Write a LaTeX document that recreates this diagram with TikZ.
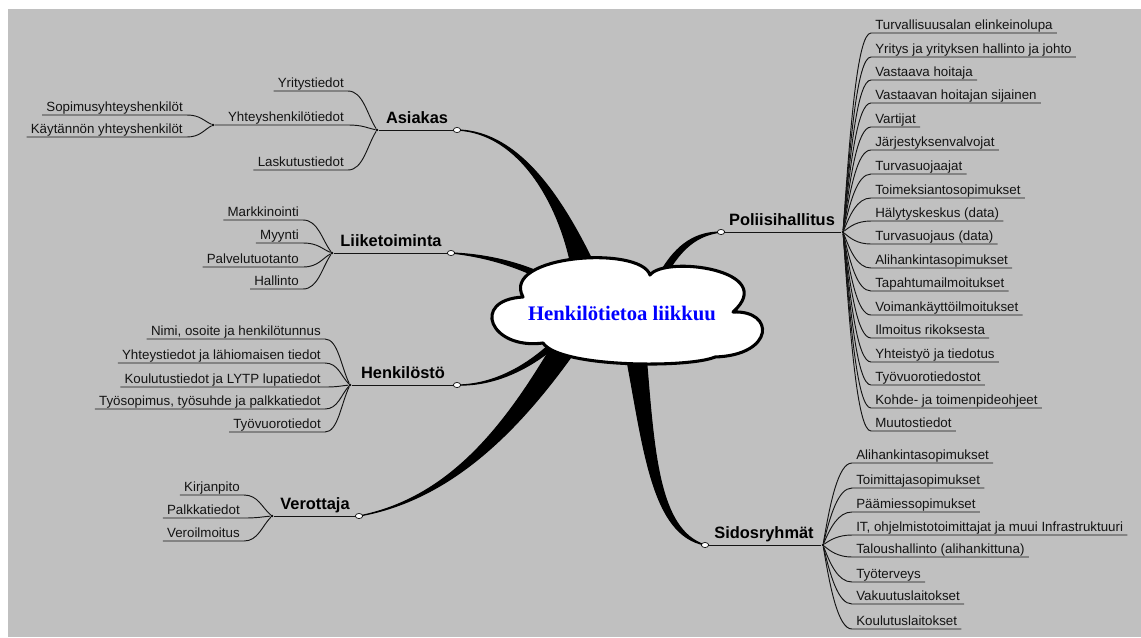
\documentclass[tikz,border=0pt]{standalone}
\usepackage{fontspec}
\setmainfont{Liberation Sans}
\newfontfamily\cloudfont{Liberation Serif}
\usetikzlibrary{shapes.geometric,calc}
\definecolor{bg}{RGB}{192,192,192}
\definecolor{ctext}{RGB}{0,0,255}
\definecolor{ink}{RGB}{20,20,20}
\pgfdeclarelayer{bgl}\pgfdeclarelayer{back}\pgfsetlayers{bgl,back,main}
\begin{document}
\begin{tikzpicture}[x=0.75pt,y=-0.75pt,
  ul/.style={draw=ink,line width=0.7pt},
  lch/.style={anchor=south east,inner xsep=3pt,inner ysep=0pt,text height=7.5pt,text depth=2.2pt,font=\fontsize{10}{12}\selectfont,text=ink},
  rch/.style={lch,anchor=south west},
  head/.style={anchor=south,inner sep=0pt,inner ysep=1.5pt,text height=9pt,text depth=3pt,font=\fontsize{12.3}{14}\selectfont\bfseries},
  conn/.style={ellipse,draw=black,fill=white,line width=0.5pt,minimum width=5.5pt,minimum height=3.8pt,inner sep=0pt},
  dot/.style={circle,fill=black,minimum size=2pt,inner sep=0pt},
  branchwedge/.style={fill=black,draw=black,line width=0.9pt,line join=round}
]
\begin{pgfonlayer}{bgl}
\fill[white] (0,0) rectangle (1141,637);
\fill[bg] (8,9) rectangle (1141,637);
\end{pgfonlayer}
\useasboundingbox (0,0) rectangle (1141,637);

% connectors and branch points
\node[conn] (cAs) at (457,130) {};
\node[conn] (cLi) at (451,253) {};
\node[conn] (cHe) at (457,385) {};
\node[conn] (cVe) at (359,516) {};
\node[conn] (cPo) at (721,232) {};
\node[conn] (cSi) at (705,545) {};
\node[dot] (bAs) at (377,130) {};
\node[dot] (bLi) at (332,253) {};
\node[dot] (bHe) at (350,385) {};
\node[dot] (bVe) at (272,516) {};
\node[dot] (bPo) at (843,232) {};
\node[dot] (bSi) at (823,545) {};
\node[dot] (bYh) at (213,125) {};

% headings
\node[head] (hAs) at (417,130) {Asiakas};
\node[head] (hLi) at (391,253) {Liiketoiminta};
\node[head] (hHe) at (403,385) {Henkilöstö};
\node[head] (hVe) at (315,516) {Verottaja};
\node[head] (hPo) at (782,232) {Poliisihallitus};
\node[head] (hSi) at (764,545) {Sidosryhmät};
\draw[ul] (bAs) -- (cAs);
\draw[ul] (bLi) -- (cLi);
\draw[ul] (bHe) -- (cHe);
\draw[ul] (bVe) -- (cVe);
\draw[ul] (cPo) -- (bPo);
\draw[ul] (cSi) -- (bSi);

% Asiakas children
\foreach \t/\y [count=\i] in {Yritystiedot/91, Laskutustiedot/170}{
  \node[lch] (a\i) at (348,\y) {\t};
  \pgfmathsetmacro\dy{0.4*(\y-130)}
  \draw[ul] (a\i.south west) -- (a\i.south east) .. controls +(15,0) and +(-10,\dy) .. (bAs);
}
\node[lch] (yh) at (348,125) {Yhteyshenkilötiedot};
\draw[ul] (bYh) -- (yh.south west) -- (yh.south east) .. controls +(15,0) and +(-10,-2) .. (bAs);
\foreach \t/\y [count=\i] in {Sopimusyhteyshenkilöt/115, Käytännön yhteyshenkilöt/137}{
  \node[lch] (ys\i) at (187,\y) {\t};
  \pgfmathsetmacro\dy{0.4*(\y-125)}
  \draw[ul] (ys\i.south west) -- (ys\i.south east) .. controls +(13,0) and +(-9,\dy) .. (bYh);
}

% Liiketoiminta children
\foreach \t/\y [count=\i] in {Markkinointi/220, Myynti/243, Palvelutuotanto/267, Hallinto/289}{
  \node[lch] (l\i) at (303,\y) {\t};
  \pgfmathsetmacro\dy{0.4*(\y-253)}
  \draw[ul] (l\i.south west) -- (l\i.south east) .. controls +(15,0) and +(-10,\dy) .. (bLi);
}

% Henkilosto children
\foreach \t/\y [count=\i] in {{Nimi, osoite ja henkilötunnus}/339, Yhteystiedot ja lähiomaisen tiedot/363, Koulutustiedot ja LYTP lupatiedot/387, {Työsopimus, työsuhde ja palkkatiedot}/409, Työvuorotiedot/432}{
  \node[lch] (h\i) at (325,\y) {\t};
  \pgfmathsetmacro\dy{0.4*(\y-385)}
  \draw[ul] (h\i.south west) -- (h\i.south east) .. controls +(13,0) and +(-9,\dy) .. (bHe);
}

% Verottaja children
\foreach \t/\y [count=\i] in {Kirjanpito/495, Palkkatiedot/518, Veroilmoitus/541}{
  \node[lch] (v\i) at (244,\y) {\t};
  \pgfmathsetmacro\dy{0.4*(\y-516)}
  \draw[ul] (v\i.south west) -- (v\i.south east) .. controls +(14,0) and +(-10,\dy) .. (bVe);
}

% Poliisihallitus children
\foreach \t/\y [count=\i] in {Turvallisuusalan elinkeinolupa/33, Yritys ja yrityksen hallinto ja johto/57, Vastaava hoitaja/80, Vastaavan hoitajan sijainen/103, Vartijat/127, Järjestyksenvalvojat/150, Turvasuojaajat/174, Toimeksiantosopimukset/198, Hälytyskeskus (data)/221, Turvasuojaus (data)/244, Alihankintasopimukset/268, Tapahtumailmoitukset/291, Voimankäyttöilmoitukset/315, Ilmoitus rikoksesta/338, Yhteistyö ja tiedotus/362, Työvuorotiedostot/385, Kohde- ja toimenpideohjeet/408, Muutostiedot/431}{
  \node[rch] (p\i) at (871,\y) {\t};
  \pgfmathsetmacro\dy{0.5*(\y-232)}
  \draw[ul] (bPo) .. controls +(7,\dy) and +(-14,0) .. (p\i.south west) -- (p\i.south east);
}

% Sidosryhmat children
\foreach \t/\y [count=\i] in {Alihankintasopimukset/463, Toimittajasopimukset/488, Päämiessopimukset/512, {IT, ohjelmistotoimittajat ja muui Infrastruktuuri}/535, Taloushallinto (alihankittuna)/557, Työterveys/582, Vakuutuslaitokset/604, Koulutuslaitokset/629}{
  \node[rch] (s\i) at (852,\y) {\t};
  \pgfmathsetmacro\dy{0.5*(\y-545)}
  \draw[ul] (bSi) .. controls +(7,\dy) and +(-14,0) .. (s\i.south west) -- (s\i.south east);
}

% main branches and cloud
\begin{pgfonlayer}{back}
\coordinate (wAs1) at (572,270); \coordinate (wAs2) at (597,270);
\filldraw[branchwedge] (wAs1) .. controls (560,205) and (520,133) .. (cAs.center) .. controls (522,131) and (566,205) .. (wAs2) -- cycle;
\coordinate (wLi1) at (546,275); \coordinate (wLi2) at (543,280);
\filldraw[branchwedge] (cLi.center) .. controls (482,254) and (516,261) .. (wLi1) -- (wLi2) .. controls (514,265) and (481,256) .. (cLi.center) -- cycle;
\coordinate (wHe1) at (551,343); \coordinate (wHe2) at (555,347);
\filldraw[branchwedge] (cHe.center) .. controls (490,385) and (523,369) .. (wHe1) -- (wHe2) .. controls (525,372) and (491,386) .. (cHe.center) -- cycle;
\coordinate (wVe1) at (552,346); \coordinate (wVe2) at (576,350);
\filldraw[branchwedge] (wVe1) .. controls (505,425) and (450,498) .. (cVe.center) .. controls (450,500) and (518,432) .. (wVe2) -- cycle;
\coordinate (wSi1) at (626,355); \coordinate (wSi2) at (646,355);
\filldraw[branchwedge] (wSi1) .. controls (644,450) and (652,535) .. (cSi.center) .. controls (658,530) and (654,450) .. (wSi2) -- cycle;
\coordinate (wPo1) at (660,273); \coordinate (wPo2) at (666,275);
\filldraw[branchwedge] (wPo1) .. controls (677,243) and (697,232) .. (cPo.center) .. controls (698,235) and (682,247) .. (wPo2) -- cycle;
\filldraw[fill=white,draw=black,line width=2.3pt,line join=round]
  (523,297) .. controls (500,255) and (640,245) .. (650,275)
  .. controls (665,255) and (780,270) .. (733,312)
  .. controls (775,310) and (775,355) .. (715,357)
  .. controls (690,368) and (560,368) .. (543,343)
  .. controls (490,350) and (470,300) .. (523,297) -- cycle;
\end{pgfonlayer}
\node[font=\cloudfont\bfseries\fontsize{15.5}{18}\selectfont,text=ctext] (center) at (622,313) {Henkilötietoa liikkuu};
\end{tikzpicture}
\end{document}
